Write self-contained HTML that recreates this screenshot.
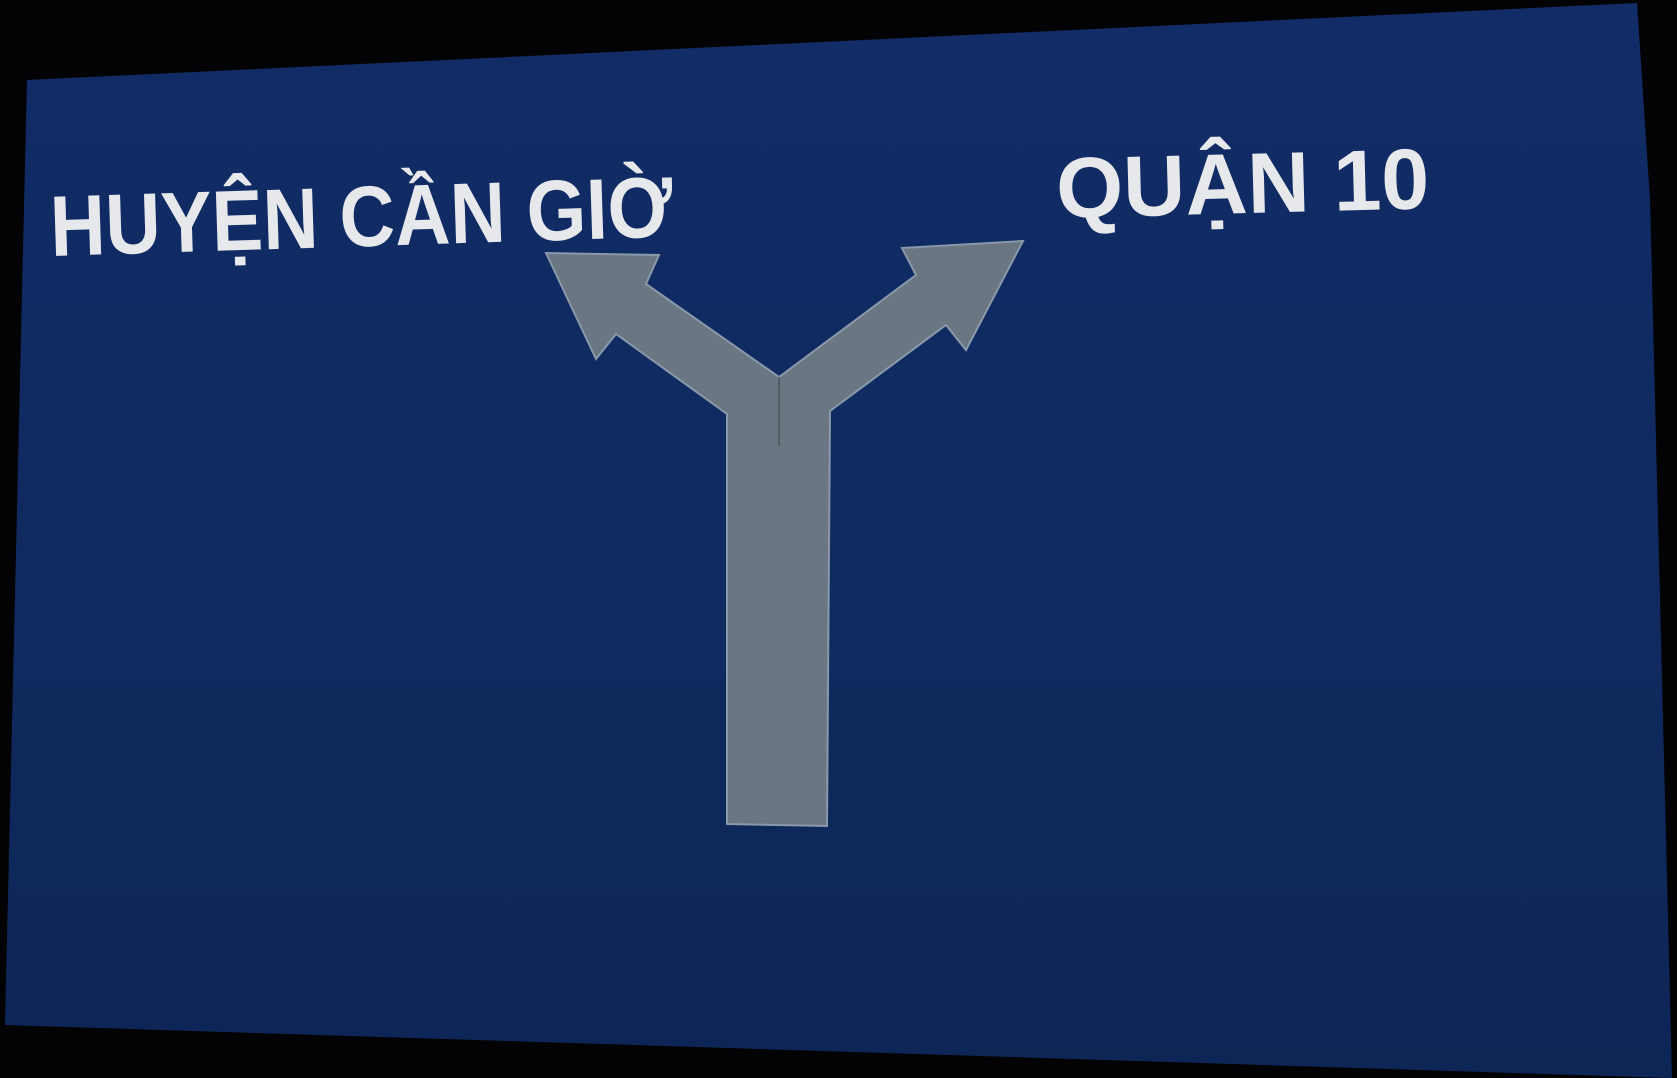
<!DOCTYPE html>
<html><head><meta charset="utf-8"><style>
html,body{margin:0;padding:0;background:#000;}
svg{display:block}
</style></head><body>
<svg width="1677" height="1078" viewBox="0 0 1677 1078">
<defs>
<linearGradient id="g" x1="0" y1="0" x2="0" y2="1">
<stop offset="0" stop-color="#112c66"/>
<stop offset="0.5" stop-color="#102a60"/>
<stop offset="1" stop-color="#0e2656"/>
</linearGradient>
</defs>
<rect x="0" y="0" width="1677" height="1078" fill="#030306"/>
<polygon points="27,80 1637,3 1650,200 1672,1078 5,1025" fill="url(#g)"/>
<polygon fill="#6a7682" stroke="#8a99aa" stroke-width="2"
 points="727,824 727,414 616,334 596,359 546,253 659,255 646,284 779,377 916,275 902,248 1023,241 966,350 946,325 830,411 827,826"/>
<line x1="779" y1="377" x2="779" y2="446" stroke="#4a5560" stroke-width="1.5"/>
<text x="51" y="256" transform="rotate(-1.8 51 256)" font-family="'Liberation Sans Narrow','Liberation Sans',sans-serif" font-weight="bold" font-size="86" fill="#e6e8ec" textLength="623" lengthAdjust="spacingAndGlyphs">HUYỆN CẦN GIỜ</text>
<text x="1057" y="218" transform="rotate(-1.5 1057 218)" font-family="'Liberation Sans Narrow','Liberation Sans',sans-serif" font-weight="bold" font-size="86" fill="#e6e8ec" textLength="373" lengthAdjust="spacingAndGlyphs">QUẬN 10</text>
</svg>
</body></html>
